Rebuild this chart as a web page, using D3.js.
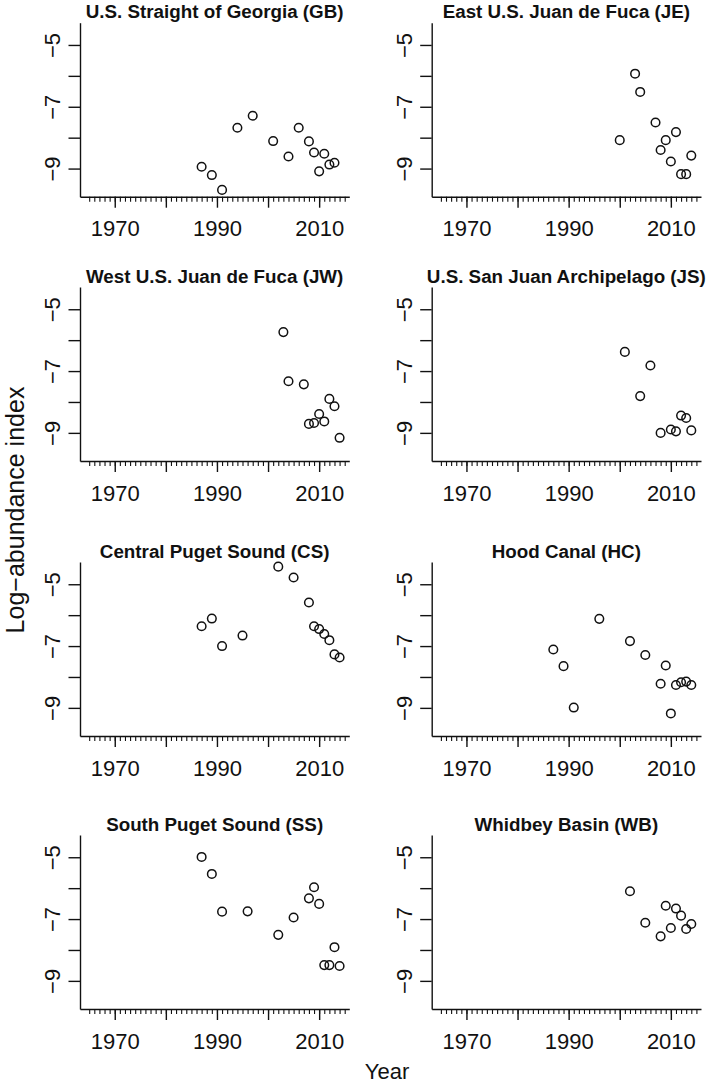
<!DOCTYPE html>
<html>
<head>
<meta charset="utf-8">
<script src="https://cdn.jsdelivr.net/npm/d3@7"></script>
<style>
  html, body { margin: 0; padding: 0; background: #fff; }
  svg { display: block; font-family: "Liberation Sans", Arial, sans-serif; }
</style>
</head>
<body>
<svg id="chart" width="709" height="1088"></svg>
<script>
// ---------------- data ----------------
const panelTitles = [
  "U.S. Straight of Georgia (GB)", "East U.S. Juan de Fuca (JE)",
  "West U.S. Juan de Fuca (JW)", "U.S. San Juan Archipelago (JS)",
  "Central Puget Sound (CS)", "Hood Canal (HC)",
  "South Puget Sound (SS)", "Whidbey Basin (WB)"
];

const gbYears  = [1987, 1989, 1991, 1994, 1997, 2001, 2004, 2006, 2008, 2009, 2010, 2011, 2012, 2013];
const gbValues = [-8.94, -9.21, -9.69, -7.68, -7.29, -8.11, -8.61, -7.68, -8.12, -8.48, -9.09, -8.52, -8.87, -8.81];

const jeYears  = [2000, 2003, 2004, 2007, 2008, 2009, 2010, 2011, 2012, 2013, 2014];
const jeValues = [-8.08, -5.93, -6.52, -7.51, -8.40, -8.08, -8.77, -7.82, -9.18, -9.18, -8.58];

const jwYears  = [2003, 2004, 2007, 2008, 2009, 2010, 2011, 2012, 2013, 2014];
const jwValues = [-5.74, -7.33, -7.43, -8.71, -8.68, -8.39, -8.63, -7.90, -8.14, -9.16];

const jsYears  = [2001, 2004, 2006, 2008, 2010, 2011, 2012, 2013, 2014];
const jsValues = [-6.38, -7.81, -6.82, -9.00, -8.89, -8.95, -8.44, -8.52, -8.92];

const csYears  = [1987, 1989, 1991, 1995, 2002, 2005, 2008, 2009, 2010, 2011, 2012, 2013, 2014];
const csValues = [-6.36, -6.11, -7.00, -6.66, -4.43, -4.78, -5.59, -6.36, -6.45, -6.61, -6.81, -7.27, -7.37];

const hcYears  = [1987, 1989, 1991, 1996, 2002, 2005, 2008, 2009, 2010, 2011, 2012, 2013, 2014];
const hcValues = [-7.11, -7.65, -8.99, -6.12, -6.84, -7.29, -8.22, -7.63, -9.18, -8.26, -8.17, -8.15, -8.26];

const ssYears  = [1987, 1989, 1991, 1996, 2002, 2005, 2008, 2009, 2010, 2011, 2012, 2013, 2014];
const ssValues = [-4.99, -5.54, -6.76, -6.75, -7.51, -6.95, -6.33, -5.97, -6.51, -8.49, -8.49, -7.91, -8.52];

const wbYears  = [2002, 2005, 2008, 2009, 2010, 2011, 2012, 2013, 2014];
const wbValues = [-6.10, -7.12, -7.56, -6.57, -7.29, -6.66, -6.89, -7.32, -7.16];

const seriesYears  = [gbYears, jeYears, jwYears, jsYears, csYears, hcYears, ssYears, wbYears];
const seriesValues = [gbValues, jeValues, jwValues, jsValues, csValues, hcValues, ssValues, wbValues];

const xMinorTicks = [1965,1966,1967,1968,1969,1970,1971,1972,1973,1974,1975,1976,1977,1978,1979,
  1980,1981,1982,1983,1984,1985,1986,1987,1988,1989,1990,1991,1992,1993,1994,1995,1996,1997,1998,1999,
  2000,2001,2002,2003,2004,2005,2006,2007,2008,2009,2010,2011,2012,2013,2014,2015];
const xMajorTicks = [1970, 1980, 1990, 2000, 2010];
const xTickLabels = {1970: "1970", 1990: "1990", 2010: "2010"};
const yTicks = [-5, -6, -7, -8, -9];
const yTickLabels = {"-5": "\u22125", "-7": "\u22127", "-9": "\u22129"};

const xTitle = "Year";
const yTitle = "Log\u2212abundance index";

// ---------------- layout ----------------
const colLefts = [80, 431.7];
const rowTops = [22.7, 287, 562, 835];
const plotW = 269.3, plotH = 174;
const xDomain = [1963.2, 2015.9];
const yDomain = [-9.91, -4.28];

const svg = d3.select("#chart");
const ink = "#111";
const font = "'Liberation Sans', Arial, sans-serif";

panelTitles.forEach((title, i) => {
  const col = i % 2, row = Math.floor(i / 2);
  const left = colLefts[col], top = rowTops[row];
  const g = svg.append("g").attr("transform", `translate(${left},${top})`);

  const x = d3.scaleLinear().domain(xDomain).range([0, plotW]);
  const y = d3.scaleLinear().domain(yDomain).range([plotH, 0]);

  // x minor ticks
  const xMinor = g.append("g").attr("transform", `translate(0,${plotH})`)
    .call(d3.axisBottom(x).tickValues(xMinorTicks).tickSize(5).tickSizeOuter(0).tickFormat(""));
  xMinor.select(".domain").attr("stroke", ink).attr("stroke-width", 1.4);
  xMinor.selectAll(".tick line").attr("stroke", ink).attr("stroke-width", 1.1);

  // x major ticks with labels
  const xMajor = g.append("g").attr("transform", `translate(0,${plotH})`)
    .call(d3.axisBottom(x).tickValues(xMajorTicks).tickSize(11).tickSizeOuter(0)
      .tickPadding(13).tickFormat(d => xTickLabels[d] || ""));
  xMajor.select(".domain").remove();
  xMajor.selectAll(".tick line").attr("stroke", ink).attr("stroke-width", 1.4);
  xMajor.selectAll(".tick text").attr("fill", ink).attr("font-size", 22)
    .attr("font-family", font);

  // y axis
  const yAx = g.append("g")
    .call(d3.axisLeft(y).tickValues(yTicks).tickSize(11.5).tickSizeOuter(0)
      .tickFormat(d => yTickLabels[String(d)] || ""));
  yAx.select(".domain").attr("stroke", ink).attr("stroke-width", 1.4);
  yAx.selectAll(".tick line").attr("stroke", ink).attr("stroke-width", 1.4);
  yAx.selectAll(".tick text")
    .attr("fill", ink).attr("font-size", 22)
    .attr("font-family", font)
    .attr("x", null).attr("dy", null)
    .attr("text-anchor", "middle")
    .attr("transform", "translate(-20,0) rotate(-90)");

  // title
  g.append("text")
    .attr("x", plotW / 2).attr("y", -4.5)
    .attr("text-anchor", "middle")
    .attr("font-size", 18.8).attr("font-weight", "bold").attr("fill", ink)
    .text(title);

  // points
  const yrs = seriesYears[i], vals = seriesValues[i];
  g.append("g").selectAll("circle")
    .data(yrs.map((yr, k) => ({ yr, v: vals[k] })))
    .join("circle")
    .attr("cx", d => x(d.yr))
    .attr("cy", d => y(d.v))
    .attr("r", 4.3)
    .attr("fill", "none")
    .attr("stroke", ink)
    .attr("stroke-width", 1.5);
});

// axis titles
svg.append("text")
  .attr("x", 387).attr("y", 1079)
  .attr("text-anchor", "middle").attr("font-size", 22).attr("fill", ink)
  .text(xTitle);

svg.append("text")
  .attr("transform", "translate(24,510) rotate(-90)")
  .attr("text-anchor", "middle").attr("font-size", 25).attr("fill", ink)
  .text(yTitle);
</script>
</body>
</html>
